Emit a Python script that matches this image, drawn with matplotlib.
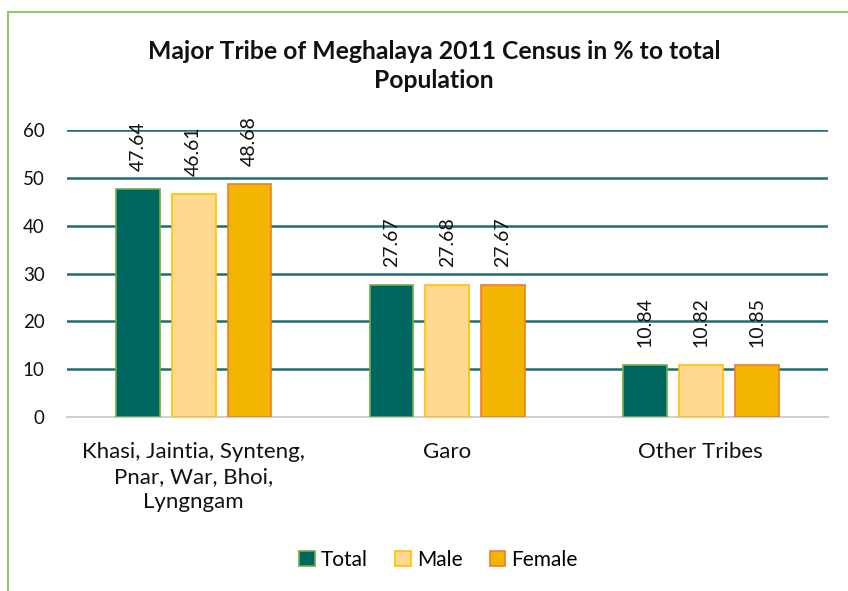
import matplotlib
matplotlib.use("Agg")
import matplotlib.pyplot as plt
from matplotlib.patches import Rectangle
import numpy as np

plt.rcParams['font.family'] = ['Lato', 'DejaVu Sans']

# data
categories = ["Khasi, Jaintia, Synteng,\nPnar, War, Bhoi,\nLyngngam", "Garo", "Other Tribes"]
series_names = ["Total", "Male", "Female"]
total = [47.64, 27.67, 10.84]
male = [46.61, 27.68, 10.82]
female = [48.68, 27.67, 10.85]
yticks = [0, 10, 20, 30, 40, 50, 60]

faces = ["#006660", "#FFD98F", "#F2B600"]
edges = ["#70AD47", "#FFC000", "#ED7D31"]

fig = plt.figure(figsize=(8.48, 5.91), dpi=100)
ax = fig.add_axes([0.079, 0.2944, 0.897, 0.4856])

# outer chart border (runs off the right/bottom edge)
fig.patches.append(Rectangle((8 / 848, -0.1), 1.2, 1 - 12 / 591 + 0.1,
                             transform=fig.transFigure, fill=False,
                             edgecolor="#8CC96B", linewidth=1.5))

x = np.arange(len(categories))
w = 0.173
offs = [-0.22, 0.0, 0.22]
for vals, off, fc, ec, name in zip([total, male, female], offs, faces, edges, series_names):
    bars = ax.bar(x + off, vals, w, color=fc, edgecolor=ec, linewidth=1.2, label=name, zorder=3)
    for b, v in zip(bars, vals):
        ax.annotate(f"{v:.2f}", (b.get_x() + b.get_width() / 2, v), xytext=(0, 18),
                    textcoords="offset pixels", rotation=90,
                    ha="center", va="bottom", fontsize=14, color="#111111")

ax.set_xlim(-0.5, 2.5)
ax.set_ylim(0, 60)
ax.set_yticks(yticks)
ax.set_xticks(x)
ax.set_xticklabels(categories, fontsize=16, color="#111111", linespacing=1.3)
ax.tick_params(axis="y", labelsize=13.5, colors="#111111", length=0, pad=16)
ax.tick_params(axis="x", length=0, pad=18)
ax.yaxis.grid(True, color="#1F6F6F", linewidth=1.8, zorder=0)
ax.set_axisbelow(True)
for s in ["top", "right", "left"]:
    ax.spines[s].set_visible(False)
ax.spines["bottom"].set_color("#D0D0D0")
ax.spines["bottom"].set_linewidth(1.5)

fig.text(0.512, 0.888, "Major Tribe of Meghalaya 2011 Census in % to total\nPopulation",
         ha="center", va="center", fontsize=17.8, fontweight="bold",
         color="#111111", linespacing=1.3)

fig.legend(loc="center", bbox_to_anchor=(0.517, 0.053), ncol=3, frameon=False,
           fontsize=15, handlelength=0.75, handleheight=0.75, columnspacing=1.3,
           handletextpad=0.3)

fig.savefig("out.png", dpi=100)
